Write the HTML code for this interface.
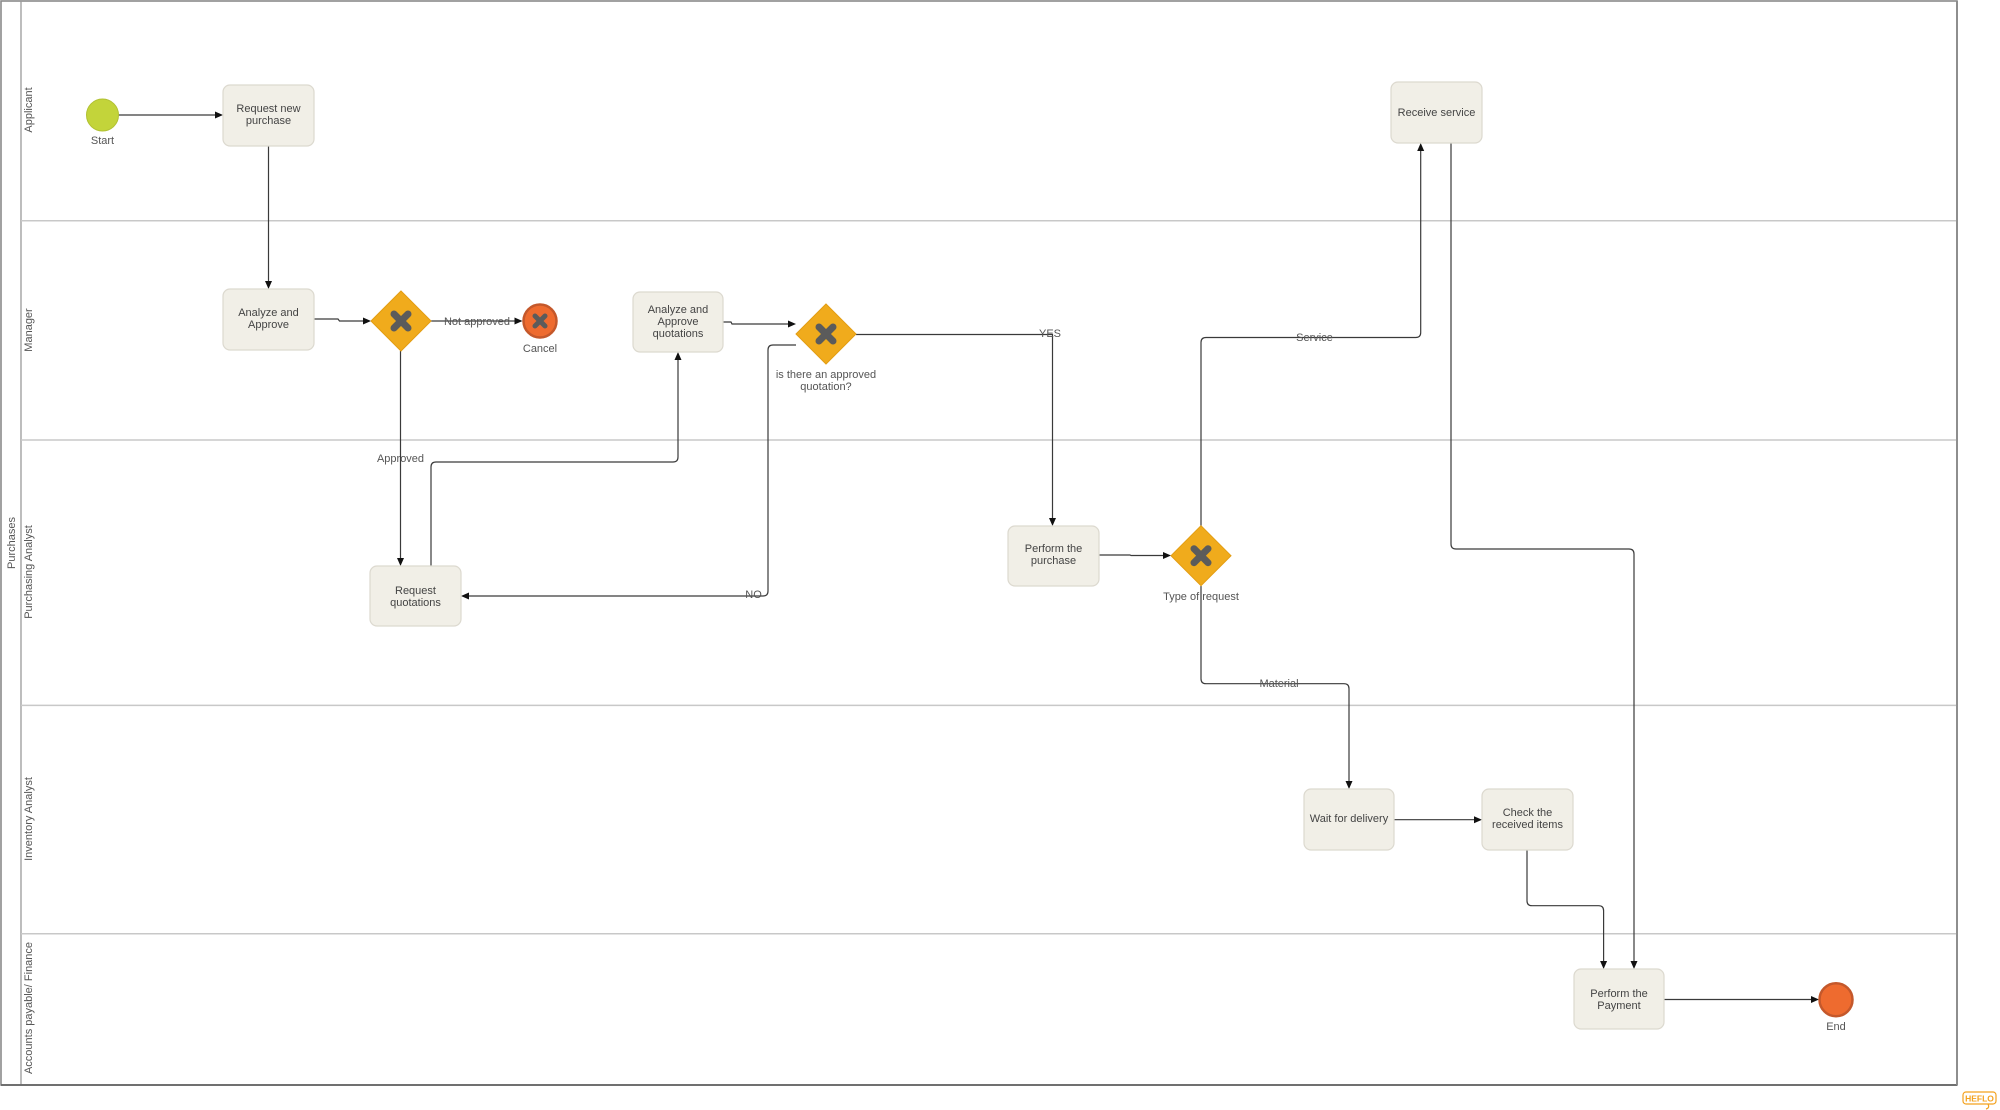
<!DOCTYPE html>
<html>
<head>
<meta charset="utf-8">
<style>
  html,body{margin:0;padding:0;background:#fff;}
  svg{display:block;}
  text{font-family:"Liberation Sans",Arial,sans-serif;}
  .t{font-size:11px;fill:#444;text-anchor:middle;}
  .lbl{font-size:11px;fill:#555;text-anchor:middle;}
  .lane{font-size:11px;fill:#555;text-anchor:middle;}
  .task{fill:#f1efe7;stroke:#dcd9cf;stroke-width:1.2;}
  .gw{fill:#f0ab1c;stroke:#e39d12;stroke-width:1;}
  .gx{stroke:#5b5b5b;stroke-width:7;stroke-linecap:round;}
  .ln{fill:none;stroke:#3a3a3a;stroke-width:1.2;}
  .ah{fill:#111;}
</style>
</head>
<body>
<svg width="2000" height="1110" viewBox="0 0 2000 1110" xmlns="http://www.w3.org/2000/svg">
  <!-- Pool -->
  <rect x="1" y="1" width="1956" height="1084" fill="#fff" stroke="#8a8a8a" stroke-width="1.6"/>
  <line x1="21" y1="1" x2="21" y2="1085" stroke="#9a9a9a" stroke-width="1.3"/>
  <line x1="21" y1="220.7" x2="1957" y2="220.7" stroke="#c8c8c8" stroke-width="1.5"/>
  <line x1="21" y1="440" x2="1957" y2="440" stroke="#c8c8c8" stroke-width="1.5"/>
  <line x1="21" y1="705.4" x2="1957" y2="705.4" stroke="#c8c8c8" stroke-width="1.5"/>
  <line x1="21" y1="933.7" x2="1957" y2="933.7" stroke="#c8c8c8" stroke-width="1.5"/>
  <line x1="1" y1="1085" x2="1957" y2="1085" stroke="#666" stroke-width="1.8"/>
  <line x1="1957" y1="1" x2="1957" y2="1085" stroke="#8a8a8a" stroke-width="1.8"/>

  <!-- Pool / lane labels -->
  <text class="lane" transform="translate(15,543) rotate(-90)">Purchases</text>
  <text class="lane" transform="translate(32,110) rotate(-90)">Applicant</text>
  <text class="lane" transform="translate(32,330) rotate(-90)">Manager</text>
  <text class="lane" transform="translate(32,572) rotate(-90)">Purchasing Analyst</text>
  <text class="lane" transform="translate(32,819) rotate(-90)">Inventory Analyst</text>
  <text class="lane" transform="translate(32,1008) rotate(-90)">Accounts payable/ Finance</text>

  <!-- Connectors -->
  <line class="ln" x1="118.5" y1="115" x2="215" y2="115"/>
  <polygon class="ah" points="223,115 215,111.5 215,118.5"/>

  <line class="ln" x1="268.5" y1="146" x2="268.5" y2="281"/>
  <polygon class="ah" points="268.5,289 265,281 272,281"/>

  <path class="ln" d="M314 319 H338 L339.5 321 H363"/>
  <polygon class="ah" points="371,321 363,317.5 363,324.5"/>

  <line class="ln" x1="431" y1="321" x2="514.5" y2="321"/>
  <polygon class="ah" points="522.5,321 514.5,317.5 514.5,324.5"/>

  <line class="ln" x1="400.5" y1="351" x2="400.5" y2="558"/>
  <polygon class="ah" points="400.5,566 397,558 404,558"/>

  <path class="ln" d="M431 566 V467 Q431 462 436 462 H673 Q678 462 678 457 V360"/>
  <polygon class="ah" points="678,352 674.5,360 681.5,360"/>

  <path class="ln" d="M723 322 H731 L732 324 H788"/>
  <polygon class="ah" points="796,324 788,320.5 788,327.5"/>

  <path class="ln" d="M796 345 H773 Q768 345 768 350 V591 Q768 596 763 596 H469"/>
  <polygon class="ah" points="461,596 469,592.5 469,599.5"/>

  <path class="ln" d="M856 334.5 H1052.5 V518"/>
  <polygon class="ah" points="1052.5,526 1049,518 1056,518"/>

  <path class="ln" d="M1099 555 H1130 L1131 555.5 H1163"/>
  <polygon class="ah" points="1171,555.5 1163,552 1163,559"/>

  <path class="ln" d="M1201 526 V342.5 Q1201 337.5 1206 337.5 H1415.7 Q1420.7 337.5 1420.7 332.5 V151"/>
  <polygon class="ah" points="1420.7,143 1417.2,151 1424.2,151"/>

  <path class="ln" d="M1201 586 V678.7 Q1201 683.7 1206 683.7 H1344 Q1349 683.7 1349 688.7 V781"/>
  <polygon class="ah" points="1349,789 1345.5,781 1352.5,781"/>

  <path class="ln" d="M1451 143 V544 Q1451 549 1456 549 H1629 Q1634 549 1634 554 V961"/>
  <polygon class="ah" points="1634,969 1630.5,961 1637.5,961"/>

  <line class="ln" x1="1394" y1="819.7" x2="1474" y2="819.7"/>
  <polygon class="ah" points="1482,819.7 1474,816.2 1474,823.2"/>

  <path class="ln" d="M1527 850 V900.7 Q1527 905.7 1532 905.7 H1598.6 Q1603.6 905.7 1603.6 910.7 V961"/>
  <polygon class="ah" points="1603.6,969 1600.1,961 1607.1,961"/>

  <line class="ln" x1="1664" y1="999.5" x2="1811" y2="999.5"/>
  <polygon class="ah" points="1819,999.5 1811,996 1811,1003"/>

  <!-- Start event -->
  <circle cx="102.5" cy="115" r="16" fill="#c3d43a" stroke="#b1c132" stroke-width="1"/>
  <text class="lbl" x="102.5" y="144">Start</text>

  <!-- Tasks -->
  <rect class="task" x="223" y="85" width="91" height="61" rx="7"/>
  <text class="t" x="268.5" y="112">Request new</text>
  <text class="t" x="268.5" y="124">purchase</text>

  <rect class="task" x="223" y="289" width="91" height="61" rx="7"/>
  <text class="t" x="268.5" y="316">Analyze and</text>
  <text class="t" x="268.5" y="328">Approve</text>

  <rect class="task" x="633" y="292" width="90" height="60" rx="7"/>
  <text class="t" x="678" y="313">Analyze and</text>
  <text class="t" x="678" y="325">Approve</text>
  <text class="t" x="678" y="337">quotations</text>

  <rect class="task" x="370" y="566" width="91" height="60" rx="7"/>
  <text class="t" x="415.5" y="594">Request</text>
  <text class="t" x="415.5" y="606">quotations</text>

  <rect class="task" x="1008" y="526" width="91" height="60" rx="7"/>
  <text class="t" x="1053.5" y="552">Perform the</text>
  <text class="t" x="1053.5" y="564">purchase</text>

  <rect class="task" x="1391" y="82" width="91" height="61" rx="7"/>
  <text class="t" x="1436.5" y="116">Receive service</text>

  <rect class="task" x="1304" y="789" width="90" height="61" rx="7"/>
  <text class="t" x="1349" y="822">Wait for delivery</text>

  <rect class="task" x="1482" y="789" width="91" height="61" rx="7"/>
  <text class="t" x="1527.5" y="816">Check the</text>
  <text class="t" x="1527.5" y="828">received items</text>

  <rect class="task" x="1574" y="969" width="90" height="60" rx="7"/>
  <text class="t" x="1619" y="997">Perform the</text>
  <text class="t" x="1619" y="1009">Payment</text>

  <!-- Gateways -->
  <polygon class="gw" points="401,291 431,321 401,351 371,321"/>
  <line class="gx" x1="394" y1="314" x2="408" y2="328"/>
  <line class="gx" x1="408" y1="314" x2="394" y2="328"/>

  <polygon class="gw" points="826,304 856,334 826,364 796,334"/>
  <line class="gx" x1="819" y1="327" x2="833" y2="341"/>
  <line class="gx" x1="833" y1="327" x2="819" y2="341"/>
  <text class="lbl" x="826" y="378">is there an approved</text>
  <text class="lbl" x="826" y="390">quotation?</text>

  <polygon class="gw" points="1201,525.7 1231,555.7 1201,585.7 1171,555.7"/>
  <line class="gx" x1="1194" y1="548.7" x2="1208" y2="562.7"/>
  <line class="gx" x1="1208" y1="548.7" x2="1194" y2="562.7"/>
  <text class="lbl" x="1201" y="600">Type of request</text>

  <!-- Cancel end event -->
  <circle cx="540" cy="321" r="16.5" fill="#ee6b2f" stroke="#c4582b" stroke-width="2.5"/>
  <line x1="535" y1="316" x2="545" y2="326" stroke="#5b5b5b" stroke-width="5" stroke-linecap="round"/>
  <line x1="545" y1="316" x2="535" y2="326" stroke="#5b5b5b" stroke-width="5" stroke-linecap="round"/>
  <text class="lbl" x="540" y="352">Cancel</text>

  <!-- End event -->
  <circle cx="1836" cy="999.7" r="16.5" fill="#ee6b2f" stroke="#c4582b" stroke-width="2.5"/>
  <text class="lbl" x="1836" y="1030">End</text>

  <!-- Connector labels -->
  <text class="lbl" x="477" y="325">Not approved</text>
  <text class="lbl" x="400.5" y="462">Approved</text>
  <text class="lbl" x="753.5" y="598">NO</text>
  <text class="lbl" x="1050" y="337">YES</text>
  <text class="lbl" x="1314.5" y="341">Service</text>
  <text class="lbl" x="1279" y="687">Material</text>

  <!-- HEFLO logo -->
  <rect x="1963" y="1092" width="33" height="12" rx="3" fill="#fff" stroke="#f3a21f" stroke-width="1.2"/>
  <path d="M1988 1104 Q1990 1108 1986 1109" fill="none" stroke="#f3a21f" stroke-width="1.2"/>
  <text x="1979.5" y="1101.5" font-size="8.5" font-weight="bold" fill="#f3a21f" text-anchor="middle" style="font-family:'Liberation Sans',sans-serif">HEFLO</text>
</svg>
</body>
</html>
